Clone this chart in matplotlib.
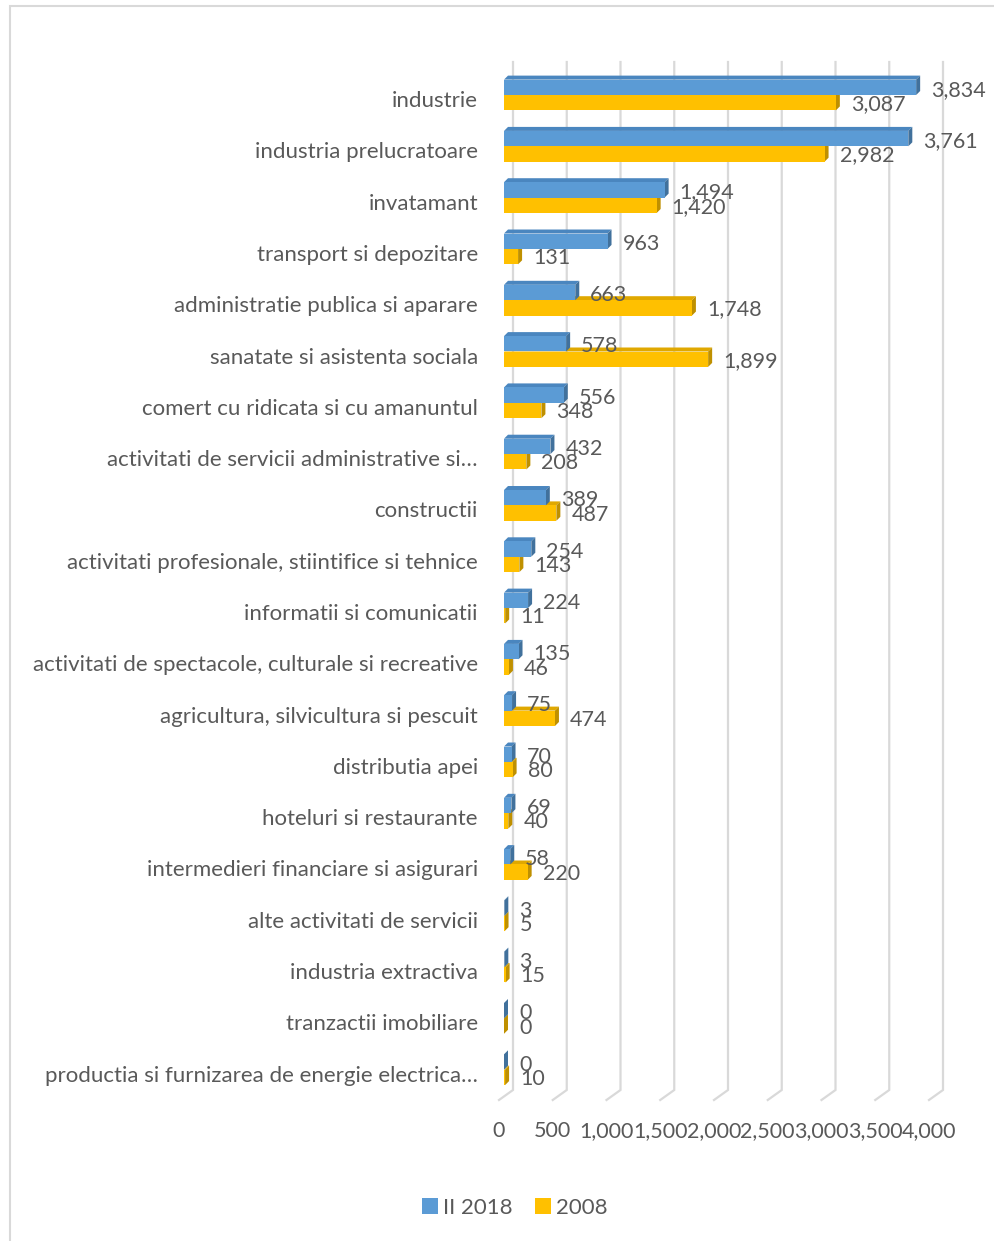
#!/usr/bin/python3

import matplotlib
matplotlib.use('Agg')
import matplotlib.pyplot as plt
from matplotlib.patches import Polygon, Rectangle
from matplotlib.transforms import ScaledTranslation

categories = ['industrie', 'industria prelucratoare', 'invatamant', 'transport si depozitare',
              'administratie publica si aparare', 'sanatate si asistenta sociala',
              'comert cu ridicata si cu amanuntul', 'activitati de servicii administrative si…',
              'constructii', 'activitati profesionale, stiintifice si tehnice',
              'informatii si comunicatii', 'activitati de spectacole, culturale si recreative',
              'agricultura, silvicultura si pescuit', 'distributia apei', 'hoteluri si restaurante',
              'intermedieri financiare si asigurari', 'alte activitati de servicii',
              'industria extractiva', 'tranzactii imobiliare',
              'productia si furnizarea de energie electrica…']
ii_2018 = [3834, 3761, 1494, 963, 663, 578, 556, 432, 389, 254, 224, 135, 75, 70, 69, 58, 3, 3, 0, 0]
y2008 = [3087, 2982, 1420, 131, 1748, 1899, 348, 208, 487, 143, 11, 46, 474, 80, 40, 220, 5, 15, 0, 10]
xticks = [0, 500, 1000, 1500, 2000, 2500, 3000, 3500, 4000]
series_names = ['II 2018', '2008']

TXT = '#595959'
GRID = '#d9d9d9'
BLUE, BLUE_SIDE, BLUE_TOP = '#5b9bd5', '#41719c', '#4a86bf'
GOLD, GOLD_SIDE, GOLD_TOP = '#ffc000', '#bf9000', '#e0a800'

W, H = 995, 1241
AX_L, AX_R, AX_T, AX_B = 504, 934, 62, 1100
XMAX = 4000
ROW = 51.3          # px per category
FIRST = 95          # px of first category centre
FS = 15.5
FS_CAT = 16


def main():
    plt.rcParams['font.family'] = ['Lato', 'DejaVu Sans']
    fig = plt.figure(figsize=(W / 100, H / 100), dpi=100)
    ax = fig.add_axes([AX_L / W, 1 - AX_B / H, (AX_R - AX_L) / W, (AX_B - AX_T) / H])

    ux = XMAX / (AX_R - AX_L)      # data units per px (x)
    uy = 1 / ROW                   # data units per px (y)
    ytop = (AX_T - FIRST) * uy
    ybot = (AX_B - FIRST) * uy
    ax.set_xlim(0, XMAX)
    ax.set_ylim(ybot, ytop)

    # back wall gridlines + slanted floor
    yfloor = (1090 - FIRST) * uy
    for v in xticks:
        ax.plot([v + 9 * ux, v + 9 * ux, v - 5 * ux], [ytop, yfloor, ybot],
                color=GRID, lw=1.6, zorder=0, clip_on=False, solid_joinstyle='miter')

    h = 0.3
    dx, dy = 4 * ux, 4 * uy

    def bar3d(v, c, front, side, top):
        y0, y1 = c - h / 2, c + h / 2
        ax.add_patch(Polygon([(0, y0), (v, y0), (v + dx, y0 - dy), (dx, y0 - dy)],
                             closed=True, fc=top, ec='none', zorder=2))
        ax.add_patch(Polygon([(v, y1), (v, y0), (v + dx, y0 - dy), (v + dx, y1 - dy)],
                             closed=True, fc=side, ec='none', zorder=2))
        ax.add_patch(Rectangle((0, y0), v, h, fc=front, ec='none', zorder=2))

    for i in range(len(categories)):
        bar3d(y2008[i], i + 0.15, GOLD, GOLD_SIDE, GOLD_TOP)
        bar3d(ii_2018[i], i - 0.15, BLUE, BLUE_SIDE, BLUE_TOP)

    for i in range(len(categories)):
        ax.text(ii_2018[i] + 15 * ux, i - 0.10, f'{ii_2018[i]:,}', color=TXT, fontsize=FS,
                ha='left', va='center', zorder=5)
        ax.text(y2008[i] + 15 * ux, i + 0.18, f'{y2008[i]:,}', color=TXT, fontsize=FS,
                ha='left', va='center', zorder=5)

    ax.set_yticks(range(len(categories)))
    ax.set_yticklabels(categories, fontsize=FS_CAT, color=TXT)
    ax.tick_params(axis='y', length=0, pad=26 * 0.72)
    for lab in ax.get_yticklabels():
        lab.set_transform(lab.get_transform() + ScaledTranslation(0, -0.04, fig.dpi_scale_trans))

    ax.set_xticks(xticks)
    ax.set_xticklabels([f'{v:,}' for v in xticks], fontsize=FS, color=TXT)
    ax.tick_params(axis='x', length=0, pad=21 * 0.72)
    for lab in ax.get_xticklabels():
        lab.set_transform(lab.get_transform() + ScaledTranslation(-0.05, 0, fig.dpi_scale_trans))

    for s in ax.spines.values():
        s.set_visible(False)
    ax.patch.set_visible(False)

    handles = [Rectangle((0, 0), 1, 1, fc=BLUE), Rectangle((0, 0), 1, 1, fc=GOLD)]
    fig.legend(handles, series_names, loc='center', bbox_to_anchor=(515 / W, 1 - 1208 / H),
               ncol=2, frameon=False, fontsize=FS_CAT, labelcolor=TXT, handlelength=0.7,
               handleheight=0.7, handletextpad=0.25, columnspacing=1.0)

    # chart area border
    fig.patches.append(Rectangle((10 / W, -0.1), 1.1, (1241 - 6) / H + 0.1, transform=fig.transFigure,
                                 fc='none', ec=GRID, lw=1.5))

    fig.savefig('out.png', dpi=100, facecolor='white')


if __name__ == '__main__':
    main()
